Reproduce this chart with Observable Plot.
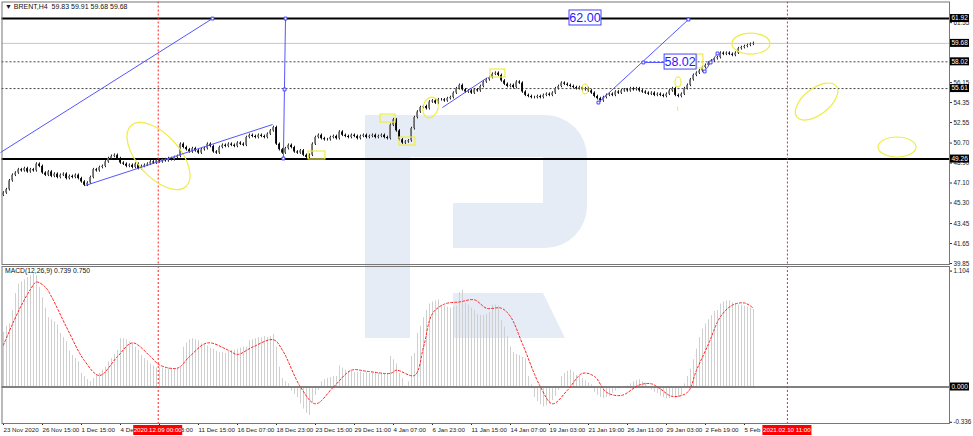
<!DOCTYPE html>
<html><head><meta charset="utf-8">
<script src="https://cdn.jsdelivr.net/npm/d3@7"></script>
<script src="https://cdn.jsdelivr.net/npm/@observablehq/plot@0.6"></script>
<style>
body{margin:0;background:#fff;}
#wrap{position:relative;width:973px;height:436px;overflow:hidden;background:#fff;font-family:"Liberation Sans",Arial,sans-serif;}
#wrap svg{position:absolute;left:0;}
</style></head><body><div id="wrap"></div>
<script>
// ---- price data (H4 closes, bar index 0..250) ----
const closes = [46.2,46.5,47.3,47.8,
48.0,48.3,48.2,48.4,48.1,48.3,48.2,
48.8,48.6,
48.0,47.8,48.1,47.7,47.9,47.6,47.8,47.9,47.5,47.7,47.6,47.8,47.5,
47.2,46.9,47.1,
47.6,48.3,48.2,48.5,
48.6,49.0,49.3,
49.5,49.6,49.3,
48.9,48.8,48.6,48.7,48.5,48.8,48.4,48.6,48.7,
48.8,49.0,48.9,49.1,49.0,49.2,49.1,49.3,49.2,49.4,
49.5,50.6,
50.3,50.1,49.9,50.2,50.0,49.8,50.1,50.2,
50.6,50.4,
49.9,49.8,
50.3,50.5,50.4,50.6,50.5,50.4,50.7,50.6,50.5,
51.2,51.4,51.3,51.2,51.4,51.3,51.2,51.5,
51.8,52.1,
50.6,50.1,49.8,50.2,
50.5,50.3,49.9,49.8,50.0,
49.6,49.4,49.6,
50.6,51.2,51.4,51.1,51.0,
51.0,51.2,51.3,51.1,
51.7,51.4,
51.3,51.2,51.4,51.3,51.1,51.3,51.4,51.2,
51.3,51.4,51.2,51.3,51.4,51.2,51.1,
52.3,52.8,
51.8,51.0,50.7,50.8,50.9,
52.0,53.0,
53.5,53.9,54.0,53.8,
54.4,54.5,54.3,54.6,
54.6,54.5,54.7,54.8,
55.2,55.6,55.9,55.5,
55.3,55.4,55.2,55.5,55.4,
55.8,56.2,56.4,56.6,
56.9,57.0,56.8,
56.3,56.0,55.8,55.9,55.7,
56.2,56.1,
55.3,55.0,54.9,54.8,
54.8,54.9,54.8,55.0,55.1,55.0,55.2,
55.6,55.8,56.1,56.0,55.9,
55.8,55.7,55.6,55.7,55.5,55.6,55.4,
55.2,54.9,54.7,54.5,
54.8,55.0,55.1,55.0,55.3,55.2,55.4,55.5,55.4,55.6,
55.5,55.6,55.4,
55.3,55.2,55.1,55.2,55.0,55.1,55.0,54.9,55.1,55.4,55.6,
55.0,54.9,55.1,
55.6,55.9,56.4,56.8,57.0,
57.2,57.5,57.7,
57.9,58.1,58.3,58.4,
58.8,58.7,58.8,58.7,
58.6,58.8,
59.2,59.3,59.4,59.5,59.6,
59.68];
const firstOpen = 46.0;

// ---- MACD histogram (main line) per bar ----
const macdHist = [0.52,
0.58,0.60,0.73,0.89,
0.98,1.00,1.02,1.04,1.06,1.08,
1.06,0.95,0.85,0.75,
0.66,0.64,0.62,0.59,
0.51,0.47,0.43,
0.34,0.30,0.27,0.24,
0.13,0.10,0.07,0.05,0.08,
0.11,0.13,0.16,0.19,
0.24,0.27,0.31,0.35,
0.46,0.46,
0.45,0.43,0.41,0.38,0.35,
0.30,0.27,0.25,0.22,0.20,0.18,
0.18,0.18,0.17,0.18,0.18,0.17,0.18,0.19,
0.38,0.42,
0.45,0.46,0.45,0.44,
0.41,0.40,0.39,0.37,0.36,0.34,0.33,0.33,0.32,
0.34,0.35,0.35,0.36,0.37,0.38,0.38,
0.44,0.45,0.46,0.47,0.47,0.48,0.47,0.48,0.50,
0.38,0.19,
0.08,0.05,0.03,
-0.04,-0.07,-0.10,
-0.16,-0.21,-0.25,-0.27,
-0.15,-0.08,-0.03,
0.05,0.07,0.08,0.09,0.10,0.10,
0.20,0.18,
0.16,0.15,0.15,0.14,0.14,
0.14,0.13,0.14,0.13,0.13,0.14,0.13,0.13,0.12,0.13,
0.29,0.26,0.22,
0.13,0.08,0.01,0.05,
0.29,0.32,
0.51,0.58,0.66,0.73,
0.79,0.81,0.82,0.83,
0.78,0.77,0.76,0.75,0.76,0.77,
0.90,0.92,
0.80,0.78,0.75,0.73,
0.69,0.68,0.68,0.69,0.71,
0.78,0.78,0.77,
0.63,0.57,0.48,0.38,
0.33,0.31,0.30,0.28,0.27,
0.10,0.02,
-0.10,-0.14,-0.17,-0.19,-0.18,-0.16,-0.13,
-0.09,-0.03,
0.10,0.13,0.15,0.16,0.14,
0.11,0.10,0.08,0.06,0.04,0.02,
-0.05,-0.08,-0.10,-0.11,-0.10,-0.09,
-0.06,-0.04,-0.02,-0.01,0.00,0.01,
0.03,0.05,0.06,0.07,0.05,0.04,
0.00,-0.03,-0.05,-0.06,
-0.09,-0.10,-0.11,-0.11,-0.10,-0.11,-0.10,-0.08,
0.03,0.10,
0.17,0.26,0.36,0.47,
0.55,0.60,0.64,0.68,0.72,0.73,
0.79,0.81,0.82,
0.82,0.80,0.79,0.78,0.78,0.77,0.76,0.75,0.74];

// ---- MACD signal line (read at bar indices) ----
const signalIdx = [0,3,6,9,11,14,16,21,27,32,38,43,49,52,58,62,68,75,78,83,90,93,99,104,110,116,121,129,131,137,140,143,147,152,157,161,166,169,173,179,183,188,193,197,201,206,212,216,219,223,228,231,235,239,243,247,250];
const signalVal = [0.40,0.60,0.78,0.93,1.00,0.95,0.86,0.57,0.25,0.11,0.29,0.42,0.29,0.21,0.18,0.29,0.42,0.35,0.31,0.38,0.45,0.35,0.00,-0.16,0.00,0.16,0.15,0.13,0.16,0.11,0.38,0.70,0.79,0.81,0.83,0.75,0.75,0.67,0.41,0.00,-0.16,-0.03,0.13,0.10,-0.05,-0.08,0.02,0.03,-0.02,-0.09,-0.05,0.16,0.41,0.67,0.78,0.80,0.75];

// ---- axes ----
const timeTickIdx = [0,13,26,39,52,65,78,91,104,117,130,143,156,169,182,195,208,221,234,247];
const timeLabels = ["23 Nov 2020","26 Nov 15:00","1 Dec 15:00","4 Dec 07:00","8 Dec 23:00","11 Dec 15:00","16 Dec 07:00","18 Dec 23:00","23 Dec 15:00","29 Dec 11:00","4 Jan 07:00","6 Jan 23:00","11 Jan 15:00","14 Jan 07:00","19 Jan 03:00","21 Jan 19:00","26 Jan 11:00","29 Jan 03:00","2 Feb 19:00","5 Feb 11:00"];
const priceTicks = [39.85,41.65,43.45,45.30,47.10,48.90,50.70,52.55,54.35,56.15,61.55];
const macdTicks = [1.104,-0.336];
const priceLevels = [61.92,59.68,58.02,55.61,49.26];
const dateMarkIdx = [51.57,261.3];
const dateMarkText = ["2020.12.09 00:00","2021.02.10 11:00"];
const titleText = "\u25BC BRENT,H4  59.83 59.91 59.68 59.68";
const macdText = "MACD(12,26,9) 0.739 0.750";

// ---- drawn analysis objects (bar index, price) ----
const blueSegs = [
 {i1:-1,p1:49.85,i2:69.67,p2:61.92},{i1:94,p1:61.92,i2:93.3,p2:49.31},
 {i1:27.3,p1:46.88,i2:89.7,p2:52.37},{i1:146.3,p1:53.9,i2:161.3,p2:56.6},
 {i1:198.3,p1:54.35,i2:228.3,p2:61.83},{i1:213.3,p1:57.96,i2:220.3,p2:57.96},
 {i1:233.7,p1:57.15,i2:235.7,p2:57.96},{i1:235.7,p1:57.96,i2:238,p2:58.77}];
const blueSquares = [{i:69.67,p:61.92},{i:94,p:61.92},{i:93.7,p:55.53},{i:93.3,p:49.31},{i:198.3,p:54.35},{i:213.3,p:57.96},{i:228.3,p:61.83},{i:233.7,p:57.15},{i:235.7,p:57.96},{i:238,p:58.77}];
const blueLabels = [{i:194,p:61.97,t:"62.00"},{i:225.7,p:58.0,t:"58.02"}];
const yellowRects = [{i1:101.7,i2:107.3,p1:49.22,p2:49.94},{i1:125.7,i2:130.7,p1:52.55,p2:53.27},{i1:132,i2:137.3,p1:50.48,p2:51.20},{i1:162.3,i2:167.3,p1:56.61,p2:57.33},{i1:231.3,i2:233.3,p1:57.42,p2:58.68}];
const yellowEllipses = [
 {i:51.83,p:49.49,a:41,b:21,rot:48},{i:142.5,p:53.86,a:7.5,b:10.5,rot:15},
 {i:194,p:55.53,a:3,b:5,rot:0},{i:225,p:56.16,a:3,b:5,rot:0},
 {i:249.3,p:59.62,a:19,b:10.5,rot:0},{i:271.2,p:54.40,a:25,b:13,rot:-38},
 {i:298,p:50.3,a:19,b:10,rot:0}];
const yellowTicks = [{i1:224.7,p1:54.0,i2:224.7,p2:53.6}];

// ---- derived tables ----
const bars = closes.map((c, i) => {
  const o = i ? closes[i-1] : firstOpen;
  return {i, o, c, lo: Math.min(o, c) - 0.12, hi: Math.max(o, c) + 0.12};
});
const hist = macdHist.map((v, i) => ({i, v}));
const signal = signalIdx.map((i, k) => ({i, v: signalVal[k]}));
const tickLabel = new Map(timeTickIdx.map((t, k) => [t, timeLabels[k]]));

const FONT = "Liberation Sans, Arial, sans-serif";
const xDomain = [-0.5, 315.33];
const wrap = document.getElementById("wrap");

// watermark logo (decoration)
const wm = d3.create("svg").attr("width", 973).attr("height", 436).style("top", "0px");
wm.append("path").attr("fill", "#e6ecf5")
  .attr("d", "M365,115 H545 A42,42 0 0 1 587,157 V206 A42,42 0 0 1 545,248 H453 V203 H543 V157 H410 V338 H365 Z");
wm.append("path").attr("fill", "#e6ecf5").attr("d", "M453,293 H543 L565,338 H453 Z");
wrap.appendChild(wm.node());

const render = (fn) => (index, scales, values, dims) => {
  const g = d3.create("svg:g");
  fn(g, scales, dims);
  return g.node();
};

const valueBoxes = (levels, fmt, fill) => render((g, s, d) => {
  for (const v of levels) {
    const y = s.y(v), x = d.width - d.marginRight + 1;
    g.append("rect").attr("x", x).attr("y", y - 4).attr("width", 19).attr("height", 8).attr("fill", fill);
    g.append("text").attr("x", x + 1.5).attr("y", y).attr("dy", "0.35em").attr("fill", "#fff")
      .attr("text-anchor", "start").attr("font-size", 6.5).attr("font-family", FONT).text(fmt(v));
  }
});

const main = Plot.plot({
  width: 973, height: 265,
  marginLeft: 1.5, marginRight: 24, marginTop: 1.5, marginBottom: 1,
  x: {domain: xDomain, axis: null},
  y: {domain: [39.76, 63.41], axis: null},
  style: {background: "transparent", overflow: "visible", color: "#222"},
  marks: [
    Plot.ruleY([59.68], {stroke: "#c8c8c8"}),
    Plot.ruleY([58.02, 55.61], {stroke: "#444", strokeDasharray: "2,2"}),
    Plot.ruleY([61.92, 49.26], {stroke: "#000", strokeWidth: 2}),
    Plot.ruleX(dateMarkIdx, {stroke: "#ff2020", strokeDasharray: "2,2"}),
    Plot.ruleX(bars, {x: "i", y1: "lo", y2: "hi", stroke: "#222", strokeWidth: 1}),
    Plot.rect(bars, {x1: d => d.i - 0.3, x2: d => d.i + 0.3, y1: "o", y2: "c", fill: d => d.c >= d.o ? "#777" : "#000"}),
    Plot.rect(yellowRects, {x1: "i1", x2: "i2", y1: "p1", y2: "p2", fill: "none", stroke: "#efec45", strokeWidth: 1.2}),
    Plot.link(yellowTicks, {x1: "i1", y1: "p1", x2: "i2", y2: "p2", stroke: "#efec45"}),
    render((g, s) => {
      for (const e of yellowEllipses) {
        const cx = s.x(e.i), cy = s.y(e.p);
        g.append("ellipse").attr("cx", cx).attr("cy", cy).attr("rx", e.a).attr("ry", e.b)
          .attr("transform", `rotate(${e.rot} ${cx} ${cy})`)
          .attr("fill", "none").attr("stroke", "#efec45").attr("stroke-width", 1.2);
      }
    }),
    Plot.link(blueSegs, {x1: "i1", y1: "p1", x2: "i2", y2: "p2", stroke: "#5555ff", strokeWidth: 1}),
    Plot.dot(blueSquares, {x: "i", y: "p", symbol: "square", r: 1.6, fill: "#fff", stroke: "#4444ff", strokeWidth: 1}),
    render((g, s) => {
      for (const l of blueLabels) {
        const cx = s.x(l.i), cy = s.y(l.p);
        g.append("rect").attr("x", cx - 16).attr("y", cy - 7.5).attr("width", 32).attr("height", 15)
          .attr("fill", "#fff").attr("stroke", "#4444ff");
        g.append("text").attr("x", cx).attr("y", cy).attr("dy", "0.36em").attr("text-anchor", "middle")
          .attr("fill", "#1a1aff").attr("font-size", 12.5).attr("font-family", FONT).text(l.t);
      }
    }),
    Plot.axisY({anchor: "right", ticks: priceTicks, tickFormat: d => d.toFixed(2), tickSize: 2, tickPadding: 2,
      fontSize: 6.3, fontFamily: FONT, label: null, stroke: "#333"}),
    valueBoxes(priceLevels, v => v.toFixed(2), "#000"),
    Plot.frame({stroke: "#777"}),
    Plot.text([titleText], {frameAnchor: "top-left", dx: 3, dy: 2, fontSize: 7, fontFamily: FONT, fill: "#111"})
  ]
});
main.style.top = "0px";
wrap.appendChild(main);

const macdPlot = Plot.plot({
  width: 973, height: 171,
  marginLeft: 1.5, marginRight: 24, marginTop: 1, marginBottom: 13,
  x: {domain: xDomain, axis: null},
  y: {domain: [-0.3476, 1.1476], axis: null},
  style: {background: "transparent", overflow: "visible", color: "#222"},
  marks: [
    Plot.ruleX(hist, {x: "i", y1: 0, y2: "v", stroke: "#cfcfcf", strokeWidth: 1}),
    Plot.ruleY([0], {stroke: "#808080", strokeWidth: 2}),
    Plot.line(signal, {x: "i", y: "v", stroke: "#ff2020", strokeDasharray: "2,2", strokeWidth: 1, curve: "catmull-rom"}),
    Plot.ruleX(dateMarkIdx, {stroke: "#ff2020", strokeDasharray: "2,2"}),
    Plot.axisY({anchor: "right", ticks: macdTicks, tickFormat: d => d.toFixed(3), tickSize: 2, tickPadding: 2,
      fontSize: 6.3, fontFamily: FONT, label: null}),
    valueBoxes([0], v => v.toFixed(3), "#000"),
    Plot.axisX({anchor: "bottom", ticks: timeTickIdx, tickFormat: d => tickLabel.get(d), textAnchor: "start",
      tickSize: 2, tickPadding: 2, fontSize: 6.2, fontFamily: FONT, label: null}),
    render((g, s, d) => {
      dateMarkIdx.forEach((i, k) => {
        const cx = s.x(i), y = d.height - d.marginBottom + 2;
        g.append("rect").attr("x", cx - 24.5).attr("y", y).attr("width", 49).attr("height", 10).attr("fill", "#ff0000");
        g.append("text").attr("x", cx).attr("y", y + 5).attr("dy", "0.35em").attr("text-anchor", "middle")
          .attr("fill", "#fff").attr("font-size", 6.2).attr("font-family", FONT).text(dateMarkText[k]);
      });
    }),
    Plot.frame({stroke: "#777"}),
    Plot.text([macdText], {frameAnchor: "top-left", dx: 3, dy: 2, fontSize: 6.8, fontFamily: FONT, fill: "#111"})
  ]
});
macdPlot.style.top = "265px";
wrap.appendChild(macdPlot);
</script>
</body></html>
